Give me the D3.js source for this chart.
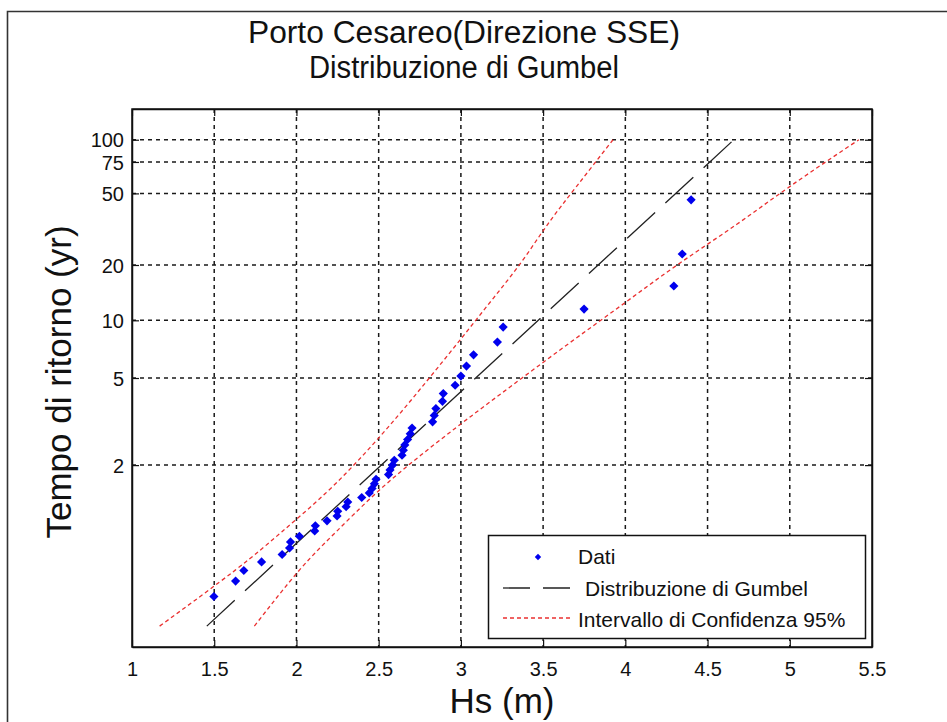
<!DOCTYPE html>
<html><head><meta charset="utf-8">
<script src="https://cdn.jsdelivr.net/npm/d3@7"></script>
<style>
html,body{margin:0;padding:0;background:#fff;}
svg text{font-family:"Liberation Sans",Arial,Helvetica,sans-serif;fill:#111;}
</style></head>
<body><svg id="chart" width="947" height="722"></svg>
<script>
// ---- data ----
const titleLines = ["Porto Cesareo(Direzione SSE)", "Distribuzione di Gumbel"];
const xLabel = "Hs (m)";
const yLabel = "Tempo di ritorno (yr)";
const xTicks = [1, 1.5, 2, 2.5, 3, 3.5, 4, 4.5, 5, 5.5];
const yTicks = [2, 5, 10, 20, 50, 75, 100];
const legendLabels = ["Dati", "Distribuzione di Gumbel", "Intervallo di Confidenza 95%"];

// observed data (Hs in m, return period in years)
const datiHs = [1.498,1.630,1.680,1.788,1.913,1.958,1.964,2.018,2.111,2.115,2.186,2.247,2.251,2.302,2.312,2.397,2.443,2.460,2.474,2.484,2.560,2.569,2.585,2.595,2.642,2.650,2.659,2.676,2.692,2.703,2.828,2.838,2.848,2.888,2.893,2.965,3.000,3.034,3.077,3.222,3.257,3.749,4.295,4.346,4.400];
const datiT = [1.0222,1.0455,1.0698,1.0952,1.1220,1.1500,1.1795,1.2105,1.2432,1.2778,1.3143,1.3529,1.3939,1.4375,1.4839,1.5333,1.5862,1.6429,1.7037,1.7692,1.8400,1.9167,2.0000,2.0909,2.1905,2.3000,2.4211,2.5556,2.7059,2.8750,3.0667,3.2857,3.5385,3.8333,4.1818,4.6000,5.1111,5.7500,6.5714,7.6667,9.2000,11.5000,15.3333,23.0000,46.0000];

// fitted Gumbel line
const fitT = [1.0036, 100];
const fitHs = [1.455, 4.66];

// 95% confidence band
const bandT = [1.0036, 1.0707, 1.2381, 1.5820, 2.1990, 3.2489, 5.0003, 7.9003, 12.689, 20.590, 33.618, 55.100, 100];
const bandLeftHs = [1.168, 1.628, 1.912, 2.177, 2.407, 2.614, 2.808, 2.997, 3.183, 3.365, 3.528, 3.706, 3.925];
const bandRightHs = [1.744, 2.018, 2.242, 2.483, 2.759, 3.060, 3.372, 3.689, 4.011, 4.335, 4.678, 5.006, 5.420];

// ---- drawing ----
const svg = d3.select("#chart");
const L = 132, R = 872, T = 109, B = 647;
const x = d3.scaleLinear().domain([1, 5.5]).range([L, R]);
const yr = d3.scaleLinear().domain([-2, 5]).range([B, T]); // Gumbel reduced variate
const gumbel = t => -Math.log(-Math.log(1 - 1 / t));
const y = t => yr(gumbel(t));

// figure border
svg.append("rect").attr("x", 0).attr("y", 0).attr("width", 947).attr("height", 722).attr("fill", "#fff");
svg.append("path").attr("d", `M7.5,722 L7.5,11.5 L947,11.5`).attr("fill", "none").attr("stroke", "#333").attr("stroke-width", 1.6);

// plot background
svg.append("rect").attr("x", L).attr("y", T).attr("width", R - L).attr("height", B - T).attr("fill", "#fff");

// grid
const grid = svg.append("g");
xTicks.filter(v => v > 1 && v < 5.5).forEach(v => {
  grid.append("line").attr("x1", x(v)).attr("x2", x(v)).attr("y1", T).attr("y2", B)
    .attr("stroke", "#1a1a1a").attr("stroke-width", 1.5).attr("stroke-dasharray", "4,4");
});
yTicks.forEach(v => {
  grid.append("line").attr("x1", L).attr("x2", R).attr("y1", y(v)).attr("y2", y(v))
    .attr("stroke", "#1a1a1a").attr("stroke-width", 1.5).attr("stroke-dasharray", "4,4");
});

// axes with inner ticks
const yAxisScale = d3.scaleLinear().domain(yr.domain()).range(yr.range());
const axB = svg.append("g").attr("transform", `translate(0,${B})`)
  .call(d3.axisBottom(x).tickValues(xTicks).tickSizeInner(-7).tickSizeOuter(0).tickPadding(15).tickFormat(d3.format("")));
const axT = svg.append("g").attr("transform", `translate(0,${T})`)
  .call(d3.axisTop(x).tickValues(xTicks).tickSizeInner(-7).tickSizeOuter(0).tickFormat(""));
const axL = svg.append("g").attr("transform", `translate(${L},0)`)
  .call(d3.axisLeft(yAxisScale).tickValues(yTicks.map(gumbel)).tickSizeInner(-7).tickSizeOuter(0).tickPadding(8)
    .tickFormat((d, i) => yTicks[i]));
const axR = svg.append("g").attr("transform", `translate(${R},0)`)
  .call(d3.axisRight(yAxisScale).tickValues(yTicks.map(gumbel)).tickSizeInner(-7).tickSizeOuter(0).tickFormat(""));
[axB, axT, axL, axR].forEach(a => {
  a.select(".domain").attr("stroke", "#111").attr("stroke-width", 1.5);
  a.selectAll(".tick line").attr("stroke", "#111").attr("stroke-width", 1.2);
  a.selectAll("text").attr("font-size", 20).attr("fill", "#222")
    .attr("font-family", "'Liberation Sans', Arial, sans-serif");
});
axL.selectAll("text").attr("dy", "0.36em");

// confidence band
const bandLine = d3.line().x(d => x(d[0])).y(d => y(d[1])).curve(d3.curveNatural);
const redStyle = s => s.attr("fill", "none").attr("stroke", "#ea3030").attr("stroke-width", 1.3).attr("stroke-dasharray", "4,3");
svg.append("path").datum(bandT.map((t, i) => [bandLeftHs[i], t])).attr("d", bandLine).call(redStyle);
svg.append("path").datum(bandT.map((t, i) => [bandRightHs[i], t])).attr("d", bandLine).call(redStyle);

// fit line
const fitLine = d3.line().x(d => x(d[0])).y(d => y(d[1]));
svg.append("path").datum(fitT.map((t, i) => [fitHs[i], t])).attr("d", fitLine)
  .attr("fill", "none").attr("stroke", "#222").attr("stroke-width", 1.3).attr("stroke-dasharray", "38,14");

// data points
const sym = d3.symbol().type(d3.symbolSquare).size(42);
svg.append("g").selectAll("path").data(datiHs.map((h, i) => [h, datiT[i]])).join("path")
  .attr("d", sym).attr("fill", "#0000ee")
  .attr("transform", d => `translate(${x(d[0])},${y(d[1])}) rotate(45)`);

// outer box re-stroked on top
svg.append("rect").attr("x", L).attr("y", T).attr("width", R - L).attr("height", B - T)
  .attr("fill", "none").attr("stroke", "#111").attr("stroke-width", 1.5);

// legend
const lg = svg.append("g");
lg.append("rect").attr("x", 488.5).attr("y", 535.5).attr("width", 377).attr("height", 103)
  .attr("fill", "#fff").attr("stroke", "#111").attr("stroke-width", 1.5);
lg.append("path").attr("d", sym).attr("fill", "#0000ee").attr("transform", "translate(538,557) rotate(45) scale(0.7)");
lg.append("line").attr("x1", 503).attr("x2", 570).attr("y1", 588).attr("y2", 588)
  .attr("stroke", "#222").attr("stroke-width", 1.3).attr("stroke-dasharray", "27,13");
lg.append("line").attr("x1", 503).attr("x2", 570).attr("y1", 618).attr("y2", 618)
  .call(redStyle);
const legX = [578, 585, 578], legY = [564, 596, 627];
legendLabels.forEach((t, i) => {
  lg.append("text").attr("x", legX[i]).attr("y", legY[i]).attr("font-size", 21).text(t);
});

// titles
const titleX = [248, 309], titleW = [432, 310];
titleLines.forEach((t, i) => svg.append("text").attr("x", titleX[i]).attr("y", 43 + i * 35)
  .attr("font-size", 31).attr("textLength", titleW[i]).attr("lengthAdjust", "spacingAndGlyphs").text(t));

svg.append("text").attr("x", 502).attr("y", 713).attr("text-anchor", "middle").attr("font-size", 35).text(xLabel);
svg.append("text").attr("transform", "translate(71,382) rotate(-90)").attr("text-anchor", "middle").attr("font-size", 35).text(yLabel);
</script></body></html>
